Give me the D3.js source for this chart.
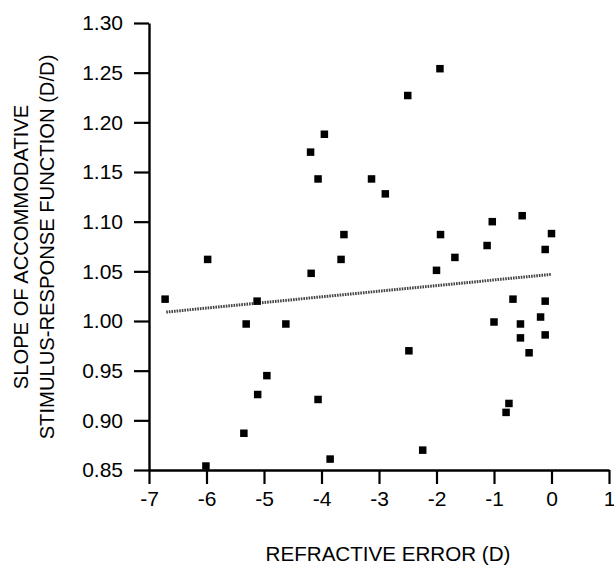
<!DOCTYPE html>
<html>
<head>
<meta charset="utf-8">
<script src="https://cdn.jsdelivr.net/npm/d3@7"></script>
<style>
  html, body { margin: 0; padding: 0; background: #fff; }
  svg { display: block; }
  text { font-family: "Liberation Sans", Arial, Helvetica, sans-serif; fill: #000; }
</style>
</head>
<body>
<svg id="chart" width="614" height="565"></svg>
<script>
// Refractive error (D)
const refractiveError = [
  -3.95, -4.19, -4.06, -3.13, -3.61, -1.94, -2.50, -2.89, -0.51, -1.03,
  -1.93, 0.00, -1.12, -0.11, -5.98, -4.18, -3.66, -6.72, -5.12, -5.31,
  -4.62, -4.95, -5.11, -4.06, -5.35, -3.85, -6.01, -1.68, -2.00, -0.67,
  -0.11, -0.19, -1.00, -0.54, -0.54, -0.11, -0.39, -2.48, -0.74, -0.79,
  -2.24
];
// Slope of accommodative stimulus-response function (D/D)
const slope = [
  1.188, 1.170, 1.143, 1.143, 1.087, 1.254, 1.227, 1.128, 1.106, 1.100,
  1.087, 1.088, 1.076, 1.072, 1.062, 1.048, 1.062, 1.022, 1.020, 0.997,
  0.997, 0.945, 0.926, 0.921, 0.887, 0.861, 0.854, 1.064, 1.051, 1.022,
  1.020, 1.004, 0.999, 0.997, 0.983, 0.986, 0.968, 0.970, 0.917, 0.908,
  0.870
];
// Regression line endpoints
const fitX = [-6.7, 0.0];
const fitY = [1.009, 1.047];

const xTicks = [-7, -6, -5, -4, -3, -2, -1, 0, 1];
const yTicks = [0.85, 0.90, 0.95, 1.00, 1.05, 1.10, 1.15, 1.20, 1.25, 1.30];
const xTitle = "REFRACTIVE ERROR (D)";
const yTitle = ["SLOPE OF ACCOMMODATIVE", "STIMULUS-RESPONSE FUNCTION (D/D)"];

const svg = d3.select("#chart");
const x = d3.scaleLinear().domain([-7, 1]).range([149, 609]);
const y = d3.scaleLinear().domain([0.85, 1.30]).range([470, 23]);

// Axes
const gx = svg.append("g").attr("transform", "translate(0,470)")
  .call(d3.axisBottom(x).tickValues(xTicks).tickFormat(d3.format("d")).tickSize(14).tickSizeOuter(0).tickPadding(7));
const gy = svg.append("g").attr("transform", "translate(149,0)")
  .call(d3.axisLeft(y).tickValues(yTicks).tickFormat(d3.format(".2f")).tickSize(15).tickSizeOuter(0).tickPadding(11));

[gx, gy].forEach(g => {
  g.select(".domain").attr("stroke", "#000").attr("stroke-width", 2.4);
  g.selectAll(".tick line").attr("stroke", "#000").attr("stroke-width", 2.2);
  g.selectAll(".tick text").attr("font-size", 21).attr("fill", "#000")
    .style("font-family", '"Liberation Sans", Arial, sans-serif');
});
gx.selectAll(".tick text").text(d => d < 0 ? "-" + Math.abs(d) : String(d));

// Regression line
svg.append("line")
  .attr("x1", x(fitX[0])).attr("y1", y(fitY[0]))
  .attr("x2", x(fitX[1])).attr("y2", y(fitY[1]))
  .attr("stroke", "#444").attr("stroke-width", 3)
  .attr("stroke-dasharray", "1.6,1");

// Points
const pts = refractiveError.map((v, i) => ({ x: v, y: slope[i] }));
const s = 7.5;
svg.append("g").selectAll("rect").data(pts).join("rect")
  .attr("x", d => x(d.x) - s / 2)
  .attr("y", d => y(d.y) - s / 2)
  .attr("width", s).attr("height", s)
  .attr("fill", "#000");

// Titles
svg.append("text")
  .attr("x", 388).attr("y", 561)
  .attr("text-anchor", "middle").attr("font-size", 20.6)
  .text(xTitle);

const yt = svg.append("text")
  .attr("transform", "translate(0,247) rotate(-90)")
  .attr("text-anchor", "middle").attr("font-size", 20.2);
yt.append("tspan").attr("x", 0).attr("y", 28).text(yTitle[0]);
yt.append("tspan").attr("x", 0).attr("y", 54).text(yTitle[1]);
</script>
</body>
</html>
